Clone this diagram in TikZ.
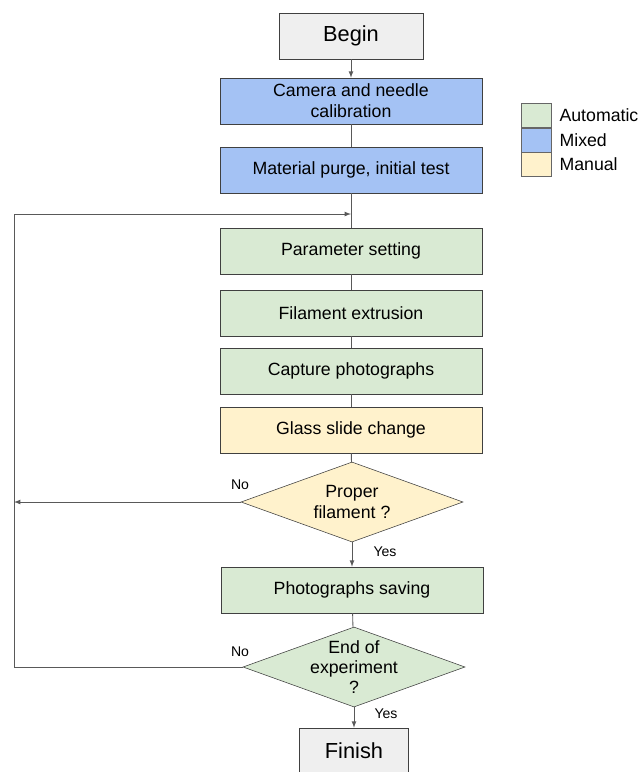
\documentclass[tikz,border=0pt]{standalone}
\usepackage{fontspec}
\setmainfont{Liberation Sans}
\usetikzlibrary{shapes.geometric}
\usetikzlibrary{arrows,positioning}

\definecolor{autogreen}{HTML}{D9EAD3}
\definecolor{mixedblue}{HTML}{A4C2F4}
\definecolor{manualyellow}{HTML}{FFF2CC}
\definecolor{termgray}{HTML}{EFEFEF}

\begin{document}
\begin{tikzpicture}[x=0.025cm,y=-0.025cm]%
        \useasboundingbox (0,0) rectangle (642,772);
        \tikzstyle{stepbox}=[draw=black!75,rectangle,minimum width=6.55cm,minimum height=1.15cm,align=center,inner sep=2pt,font=\fontsize{12.6}{15}\selectfont];%%
        \tikzstyle{termbox}=[stepbox,fill=termgray,minimum width=3.6cm,font=\fontsize{15.5}{18}\selectfont];%%
        \tikzstyle{decision}=[draw=black!75,diamond,aspect=2.775,minimum width=5.55cm,minimum height=2cm,inner sep=0pt,align=center,font=\fontsize{12.6}{14.5}\selectfont];%%
        \tikzstyle{answer}=[font=\fontsize{10}{12}\selectfont,inner sep=0pt];%%
        \tikzstyle{legendbox}=[draw=black!60,rectangle,minimum width=0.75cm,minimum height=0.6cm,inner sep=0pt];%%
        \tikzstyle{connector}=[draw=black!65,line width=0.6pt];%%
        \begin{scope}
            \node[termbox] (begin) at (351,36) {Begin}; %%
            \node[stepbox,fill=mixedblue] (calib) at (351,101) {Camera and needle\\calibration}; %%
            \node[stepbox,fill=mixedblue] (purge) at (351,170) {Material purge, initial test}; %%
            \node[stepbox,fill=autogreen] (param) at (351,251) {Parameter setting}; %%
            \node[stepbox,fill=autogreen] (extru) at (351,313) {Filament extrusion}; %%
            \node[stepbox,fill=autogreen] (capt) at (351,371) {Capture photographs}; %%
            \node[stepbox,fill=manualyellow] (glass) at (351,430) {Glass slide change}; %%
            \node[decision,fill=manualyellow] (proper) at (352,502) {Proper\\filament ?}; %%
            \node[stepbox,fill=autogreen] (save) at (352,590) {Photographs saving}; %%
            \node[decision,fill=autogreen,inner sep=-1.6pt] (endexp) at (354,667) {End of\\experiment\\?}; %%
            \node[termbox,minimum width=2.725cm] (finish) at (354,751) {Finish}; %%
        \end{scope}
        \begin{scope}
            \node[answer] (no1) at (240,485) {No}; %%
            \node[answer] (yes1) at (385,552) {Yes}; %%
            \node[answer] (no2) at (240,652) {No}; %%
            \node[answer] (yes2) at (386,714) {Yes}; %%
        \end{scope}
        \begin{scope}
            \tikzstyle{every node}=[font=\fontsize{12.6}{15}\selectfont];%%
            \node[legendbox,fill=autogreen] (lgauto) at (536,115.5) {}; %%
            \node[legendbox,fill=mixedblue,below=0pt of lgauto] (lgmixed) {}; %%
            \node[legendbox,fill=manualyellow,below=0pt of lgmixed] (lgmanual) {}; %%
            \node[right=0.2cm of lgauto,inner sep=0pt] (txauto) {Automatic}; %%
            \node[right=0.2cm of lgmixed,inner sep=0pt] (txmixed) {Mixed}; %%
            \node[right=0.2cm of lgmanual,inner sep=0pt] (txmanual) {Manual}; %%
        \end{scope}
        \coordinate (ltop) at (14,214); %%
        \coordinate (merge) at (351,214); %%
        \draw[connector,-latex] (begin)--(calib); %%
        \draw[connector] (calib)--(purge); %%
        \draw[connector] (purge)--(param); %%
        \draw[connector] (param)--(extru); %%
        \draw[connector] (extru)--(capt); %%
        \draw[connector] (capt)--(glass); %%
        \draw[connector] (glass)--(proper); %%
        \draw[connector,-latex] (proper)--(save); %%
        \draw[connector] (save)--(endexp); %%
        \draw[connector,-latex] (endexp)--(finish); %%
        \draw[connector,-latex] (proper.west)--(proper.west -| ltop); %%
        \draw[connector,-latex] (endexp.west) -| (ltop) -- (merge); %%
        \end{tikzpicture}
\end{document}
